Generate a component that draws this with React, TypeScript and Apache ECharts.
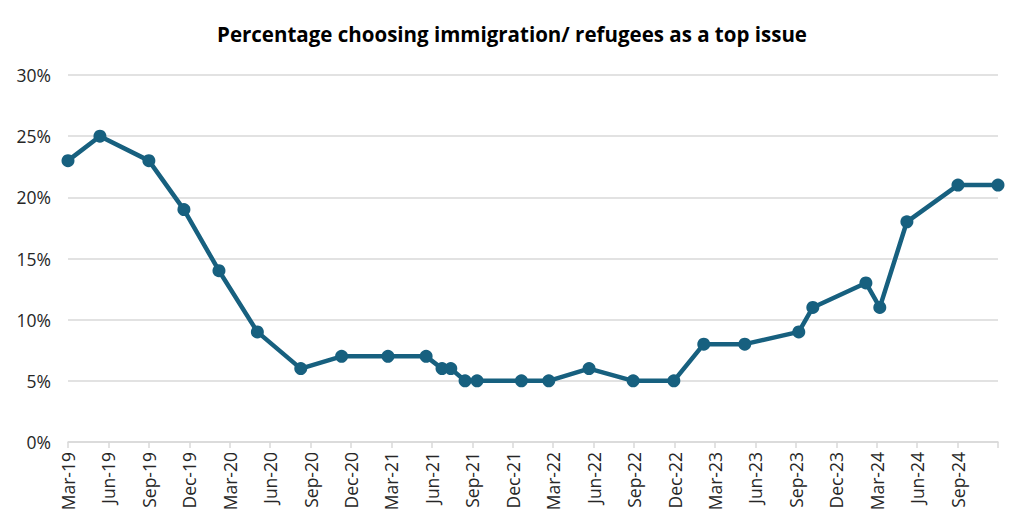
import React, { useEffect, useRef } from "react";
import * as echarts from "echarts";

// Months since Mar-2019 (fractional) for each survey point
const monthOffsets = [0, 2.37, 6.0, 8.6, 11.2, 14.05, 17.27, 20.3, 23.74, 26.57, 27.75, 28.4, 29.46, 30.35, 33.64, 35.67, 38.66, 41.93, 44.95, 47.17, 50.21, 54.22, 55.26, 59.2, 60.23, 62.24, 66.03, 69.0];
const values = [23, 25, 23, 19, 14, 9, 6, 7, 7, 7, 6, 6, 5, 5, 5, 5, 6, 5, 5, 8, 8, 9, 11, 13, 11, 18, 21, 21];
const monthNames = ["Jan", "Feb", "Mar", "Apr", "May", "Jun", "Jul", "Aug", "Sep", "Oct", "Nov", "Dec"];
const yTicks = [0, 5, 10, 15, 20, 25, 30];
const titleText = "Percentage choosing immigration/ refugees as a top issue";

const startYear = 2019;
const startMonth = 2; // March (0-based)

function monthLabel(v: number): string {
  const total = startMonth + Math.round(v);
  const y = startYear + Math.floor(total / 12);
  const m = total % 12;
  return monthNames[m] + "-" + String(y % 100).padStart(2, "0");
}

export default function App() {
  const ref = useRef<HTMLDivElement>(null);
  useEffect(() => {
    if (!ref.current) return;
    const chart = echarts.init(ref.current, undefined, { renderer: "svg" });
    const font = "Open Sans, Noto Sans, sans-serif";
    chart.setOption({
      animation: false,
      title: {
        text: titleText,
        left: "center",
        top: 10,
        textStyle: { fontFamily: font, fontWeight: "bold", fontSize: 20.5, color: "#000" },
      },
      grid: { left: 60, right: 18, top: 67, bottom: 81, containLabel: false },
      xAxis: {
        type: "value",
        min: 0,
        max: 69,
        interval: 3,
        axisLine: { show: true, lineStyle: { color: "#d9d9d9", width: 1.5 } },
        axisTick: { show: true, length: 6, lineStyle: { color: "#d9d9d9", width: 1.5 } },
        splitLine: { show: false },
        axisLabel: {
          rotate: 90,
          margin: 10,
          fontFamily: font,
          fontSize: 17.5,
          color: "#262626",
          formatter: (v: number) => (v >= 69 ? "" : monthLabel(v)),
        },
      },
      yAxis: {
        type: "value",
        min: 0,
        max: 30,
        interval: 5,
        axisLine: { show: false },
        axisTick: { show: false },
        splitLine: { lineStyle: { color: "#d9d9d9", width: 1.5 } },
        axisLabel: {
          margin: 17,
          fontFamily: font,
          fontSize: 17.5,
          color: "#262626",
          formatter: (v: number) => (yTicks.includes(v) ? v + "%" : ""),
        },
      },
      series: [
        {
          type: "line",
          data: monthOffsets.map((m, i) => [m, values[i]]),
          symbol: "circle",
          symbolSize: 13,
          lineStyle: { color: "#17607f", width: 4.5 },
          itemStyle: { color: "#17607f" },
          z: 3,
        },
      ],
    });
    return () => chart.dispose();
  }, []);
  return <div ref={ref} style={{ width: 1008, height: 515 }} />;
}
